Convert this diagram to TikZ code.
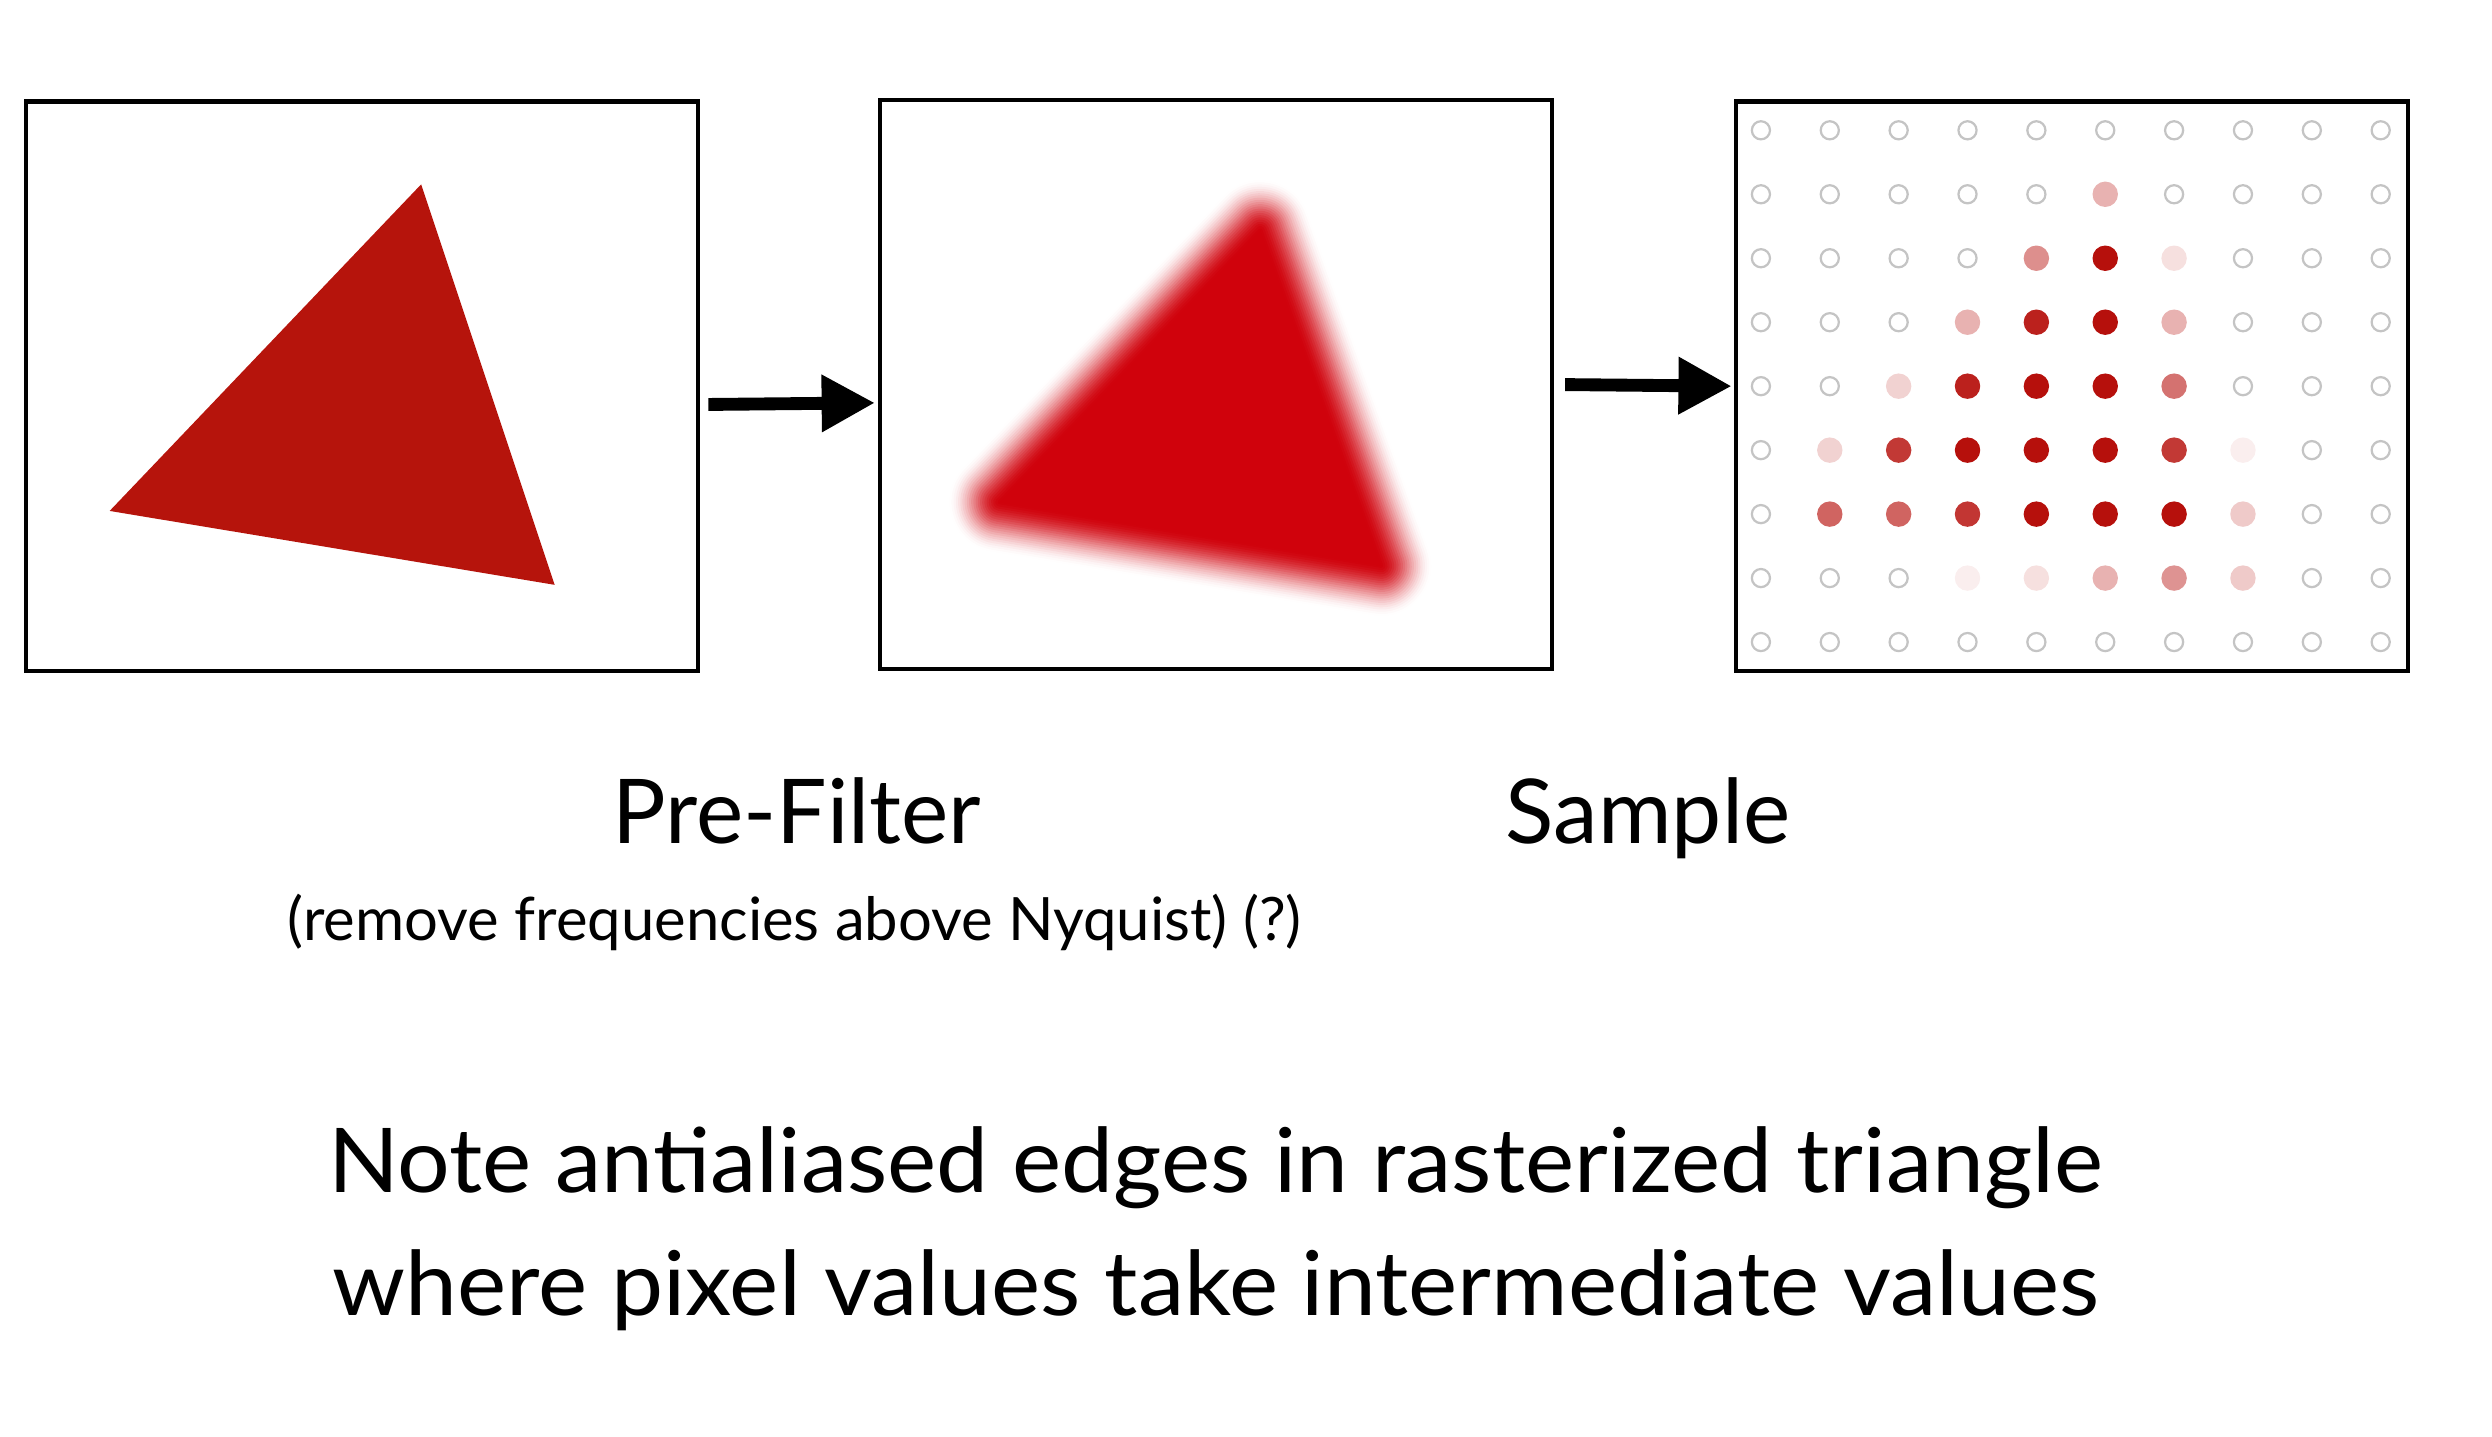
\documentclass[tikz,border=0pt]{standalone}
\usepackage{fontspec}
\setmainfont{Lato}
\usetikzlibrary{arrows.meta}

\definecolor{trired}{RGB}{182,20,12}
\definecolor{blurred}{RGB}{208,2,12}
\definecolor{dotred}{RGB}{182,16,12}
\definecolor{ringgray}{RGB}{196,196,196}

\tikzset{
  panel/.style={draw, line width=0.75pt, minimum width=4.227cm, minimum height=3.58cm, inner sep=0pt},
  bigarrow/.style={line width=2.3pt, -{Triangle[length=0.335cm,width=0.34cm]}},
  emptydot/.style={draw=ringgray, line width=0.4pt},
  bigtext/.style={font=\fontsize{16}{22}\selectfont, inner sep=0pt},
  notetext/.style={font=\fontsize{16}{22}\selectfont\addfontfeature{FakeStretch=1.04}, inner sep=0pt},
  smalltext/.style={font=\fontsize{10.7}{13}\selectfont, inner sep=0pt}
}

\begin{document}
\begin{tikzpicture}[x=0.01cm, y=-0.01cm]
		\useasboundingbox (0,0) rectangle (1568,904);

		% the three panels
		\node[panel] (box1) at (227.9, 243) {};
		\node[panel] (box2) at (765.1, 242) {};
		\node[panel] (box3) at (1303.6, 243) {};

		% sharp triangle
		\fill[trired] (265,116) -- (69,321.5) -- (349,368) -- cycle;

		% blurred triangle, built up from wide faint strokes (smoothstep falloff)
		\foreach \k in {1,...,24} {
			\pgfmathsetmacro\ta{\k/24}
			\pgfmathsetmacro\tb{(\k-1)/24}
			\pgfmathsetmacro\op{1-(1-3*\ta*\ta+2*\ta*\ta*\ta)/(1-3*\tb*\tb+2*\tb*\tb*\tb)}
			\pgfmathsetmacro\lw{0.66*(24-\k)/24}
			\filldraw[blurred, opacity=\op, line width=\lw cm, line join=round]
				(793,145) -- (629,316) -- (869,356) -- cycle;
		}

		% sampled grid
		\foreach \vals [count=\r] in {
				{0,0,0,0,0,0,0,0,0,0},
				{0,0,0,0,0,32,0,0,0,0},
				{0,0,0,0,47,100,13,0,0,0},
				{0,0,0,32,93,100,32,0,0,0},
				{0,0,19,93,100,100,59,0,0,0},
				{0,19,83,100,100,100,83,7,0,0},
				{0,65,65,84,100,100,100,22,0,0},
				{0,0,0,7,13,32,45,22,0,0},
				{0,0,0,0,0,0,0,0,0,0}}
			\foreach \v [count=\c] in \vals {
				\pgfmathsetmacro\px{1108+(\c-1)*43.33}
				\pgfmathsetmacro\py{82+(\r-1)*40.25}
				\ifnum\v=0
					\draw[emptydot] (\px,\py) circle (0.057cm);
				\else
					\fill[dotred!\v!white] (\px,\py) circle (0.08cm);
				\fi
			}

		\draw[bigarrow] ([xshift=0.05cm, yshift=-0.115cm]box1.east) -- ([xshift=-0.018cm, yshift=-0.115cm]box2.west);
		\draw[bigarrow] ([xshift=0.069cm]box2.east) -- ([xshift=-0.012cm]box3.west);

		\node[bigtext, anchor=base] (prefilter) at (501.5, 531) {Pre-Filter};
		\node[bigtext, anchor=base] (sample) at (1037, 531) {Sample};
		\node[smalltext, anchor=base] (nyquist) at (500, 591.5) {(remove frequencies above Nyquist) (?)};

		% anchor=base sits on the last line here
		\node[notetext, align=center, anchor=base] (note) at (765, 828)
			{Note antialiased edges in rasterized triangle\\where pixel values take intermediate values};
	\end{tikzpicture}
\end{document}
